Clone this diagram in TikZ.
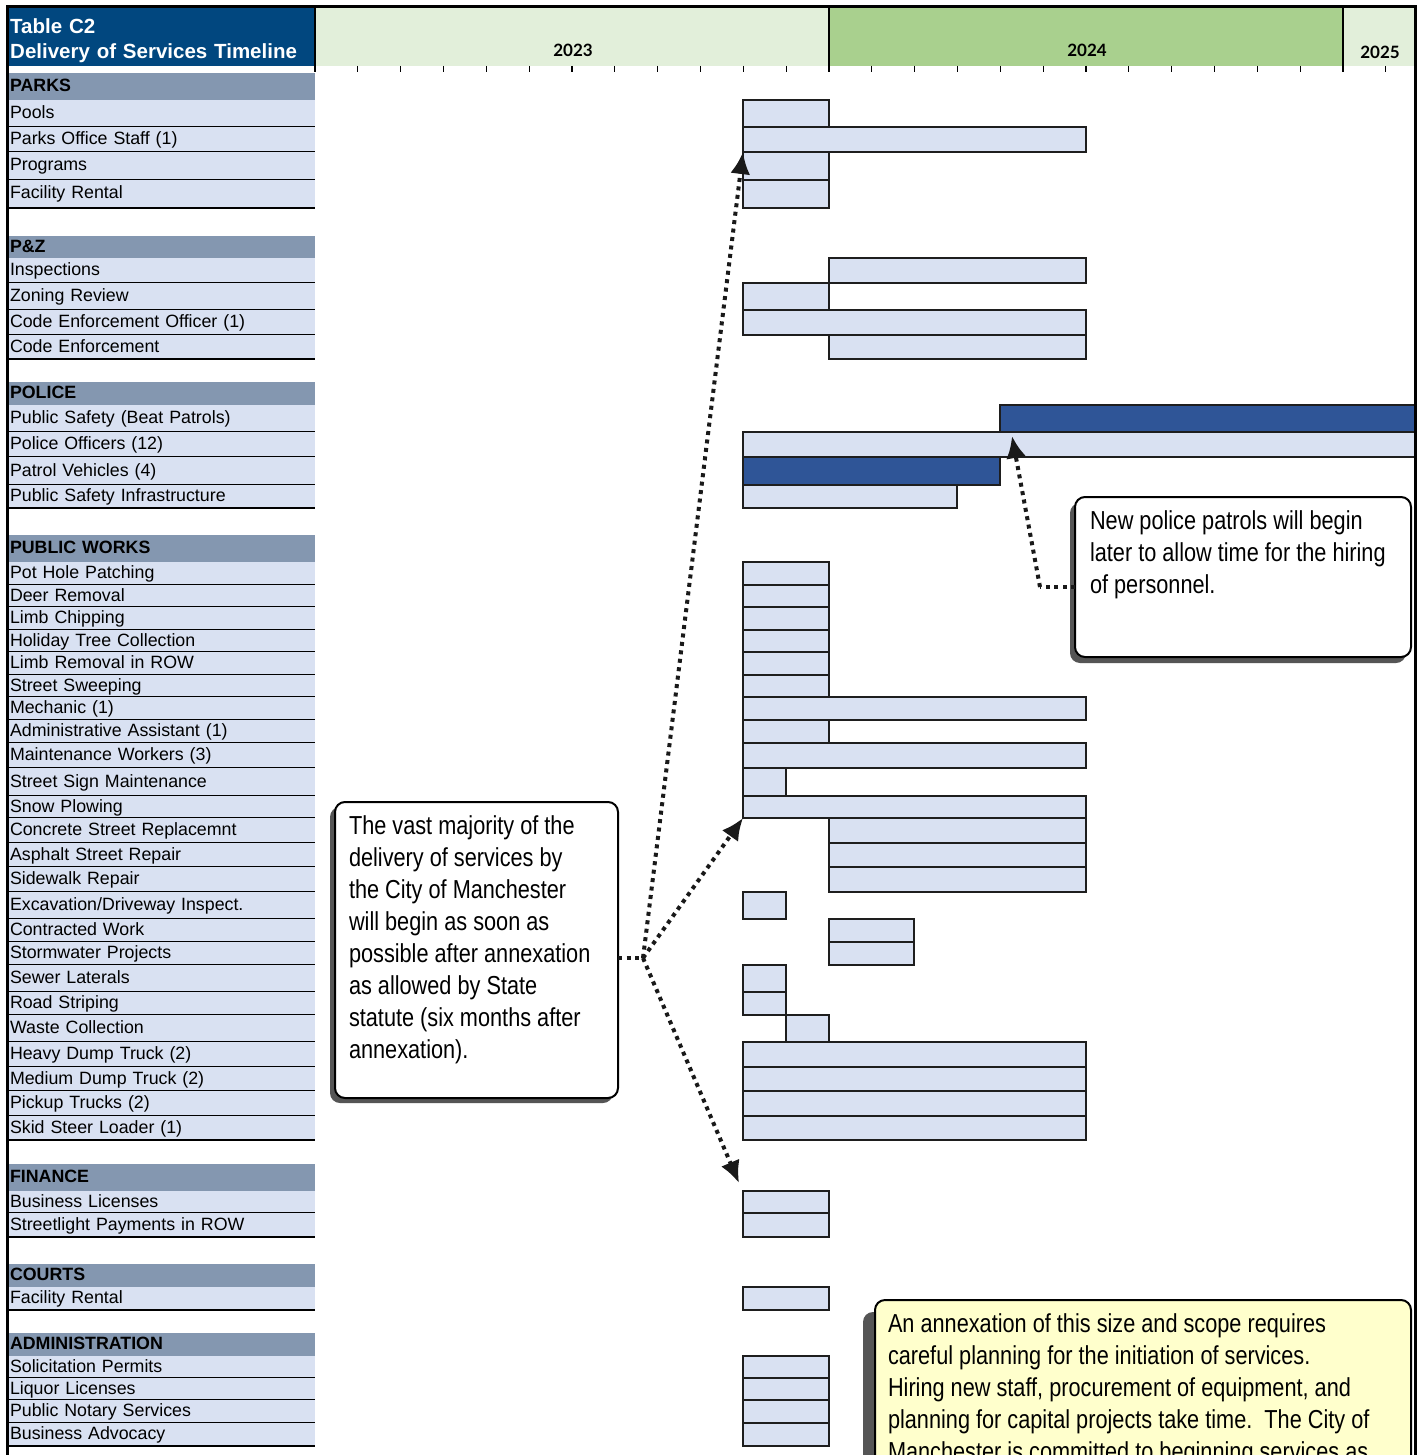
\documentclass[tikz,border=0pt]{standalone}
\usepackage{fontspec}
\setmainfont{Liberation Sans}
\newfontfamily\narrowfont{Liberation Sans}[FakeStretch=0.835]
\newfontfamily\yearfont{Lato}
\usetikzlibrary{arrows.meta,shadows}
\definecolor{rowfill}{HTML}{D9E1F2}
\definecolor{catfill}{HTML}{8497B0}
\definecolor{bardark}{HTML}{2F5597}
\definecolor{barline}{HTML}{1E1E1E}
\definecolor{titlebg}{HTML}{01477F}
\definecolor{glight}{HTML}{E2EFDA}
\definecolor{gdark}{HTML}{A9D08E}
\definecolor{notey}{HTML}{FFFFCC}
\definecolor{shadowc}{HTML}{555555}
\tikzset{
  lblrow/.style={rectangle, fill=rowfill, minimum width=308pt, text width=302pt,
    inner xsep=3pt, inner ysep=0pt, outer sep=0pt, align=left,
    font=\fontsize{17.8}{20}\selectfont, text height=14pt, text depth=4pt},
  catrow/.style={lblrow, fill=catfill, font=\fontsize{17.8}{20}\selectfont\bfseries},
  rowline/.style={line width=1.8pt, black},
  lightbar/.style={rectangle, draw=barline, line width=1.4pt, fill=rowfill, inner sep=0pt, outer sep=0pt},
  darkbar/.style={lightbar, fill=bardark},
  callout/.style={rectangle, rounded corners=10pt, draw=black, line width=2pt, fill=white,
    anchor=north west, inner sep=0pt, outer sep=0pt,
    font=\narrowfont\fontsize{26}{32}\selectfont},
  yearlbl/.style={font=\yearfont\bfseries\fontsize{17}{20}\selectfont, inner sep=0pt},
  tickline/.style={line width=1.3pt, black},
  dotline/.style={line width=4pt, dash pattern=on 4pt off 4.5pt, black!90},
  connector/.style={dotline, -{Latex[length=22pt,width=20pt]}},
}
\newcommand{\rowl}[5]{%
  \pgfmathsetmacro\gh{#3-#2}\pgfmathsetmacro\gy{(#2+#3)/2}%
  \node[#5, minimum height=\gh pt] (#1) at (161,\gy) {#4};}
\newcommand{\rowi}[4]{%
  \rowl{#1}{#2}{#3}{#4}{lblrow}%
  \draw[rowline] (#1.south west) -- (#1.south east);}
\newcommand{\gbar}[6]{%
  \pgfmathsetmacro\gw{#3-#2}\pgfmathsetmacro\gh{#5-#4}%
  \pgfmathsetmacro\gx{(#2+#3)/2}\pgfmathsetmacro\gy{(#4+#5)/2}%
  \node[#6, minimum width=\gw pt, minimum height=\gh pt] (#1) at (\gx,\gy) {};}
\newcommand{\oneline}[1]{\mbox{#1}\\}
\begin{document}
\begin{tikzpicture}[x=1pt,y=-1pt]
\useasboundingbox (0,0) rectangle (1419,1455);
\clip (0,0) rectangle (1419,1455);
\fill[white] (0,0) rectangle (1419,1455);
% ---------- header ----------
\fill[titlebg] (7,7) rectangle (315,66);
\node[anchor=west, text width=302pt, inner xsep=3pt, inner ysep=0pt, align=left, text=white,
  font=\fontsize{20.5}{25}\selectfont\bfseries] (title) at (7,41)
  {Table C2\\Delivery of Services Timeline};
\fill[glight] (315,7) rectangle (829,66);
\fill[gdark] (829,7) rectangle (1343,66);
\fill[glight] (1343,7) rectangle (1415,66);
\node[yearlbl] (y2023) at (573,50) {2023};
\node[yearlbl] (y2024) at (1087,50) {2024};
\node[yearlbl] (y2025) at (1380,52) {2025};
\foreach \k in {1,...,11,13,14,...,23,24,25} {
  \pgfmathsetmacro\tx{315+42.833*\k}
  \draw[tickline] (\tx,66) -- (\tx,72);
}
\draw[tickline] (829,7) -- (829,72);
\draw[tickline] (1343,7) -- (1343,72);
\draw[tickline] (315,7) -- (315,72);
% ---------- label column ----------
\rowl{cParks}{73}{100}{PARKS}{catrow}
\rowi{lPools}{100}{127}{Pools}
\rowi{lStaff}{127}{152}{Parks Office Staff (1)}
\rowi{lPrograms}{152}{180}{Programs}
\rowi{lFac}{180}{208}{Facility Rental}
\rowl{cPZ}{236}{258}{P\&Z}{catrow}
\rowi{lInsp}{258}{283}{Inspections}
\rowi{lZon}{283}{310}{Zoning Review}
\rowi{lCEO}{310}{335}{Code Enforcement Officer (1)}
\rowi{lCE}{335}{359}{Code Enforcement}
\rowl{cPolice}{382}{405}{POLICE}{catrow}
\rowi{lBeat}{405}{432}{Public Safety (Beat Patrols)}
\rowi{lOff}{432}{457}{Police Officers (12)}
\rowi{lVeh}{457}{485}{Patrol Vehicles (4)}
\rowi{lPSI}{485}{508}{Public Safety Infrastructure}
\rowl{cPW}{535}{562}{PUBLIC WORKS}{catrow}
\rowi{lPot}{562}{585}{Pot Hole Patching}
\rowi{lDeer}{585}{607}{Deer Removal}
\rowi{lChip}{607}{630}{Limb Chipping}
\rowi{lHol}{630}{652}{Holiday Tree Collection}
\rowi{lLimb}{652}{675}{Limb Removal in ROW}
\rowi{lSweep}{675}{697}{Street Sweeping}
\rowi{lMech}{697}{720}{Mechanic (1)}
\rowi{lAdm}{720}{743}{Administrative Assistant (1)}
\rowi{lMaint}{743}{768}{Maintenance Workers (3)}
\rowi{lSign}{768}{796}{Street Sign Maintenance}
\rowi{lSnow}{796}{818}{Snow Plowing}
\rowi{lConc}{818}{843}{Concrete Street Replacemnt}
\rowi{lAsph}{843}{867}{Asphalt Street Repair}
\rowi{lSide}{867}{892}{Sidewalk Repair}
\rowi{lExc}{892}{919}{Excavation/Driveway Inspect.}
\rowi{lCon}{919}{942}{Contracted Work}
\rowi{lStorm}{942}{965}{Stormwater Projects}
\rowi{lSew}{965}{992}{Sewer Laterals}
\rowi{lStripe}{992}{1015}{Road Striping}
\rowi{lWaste}{1015}{1042}{Waste Collection}
\rowi{lHeavy}{1042}{1067}{Heavy Dump Truck (2)}
\rowi{lMed}{1067}{1091}{Medium Dump Truck (2)}
\rowi{lPick}{1091}{1116}{Pickup Trucks (2)}
\rowi{lSkid}{1116}{1140}{Skid Steer Loader (1)}
\rowl{cFin}{1164}{1191}{FINANCE}{catrow}
\rowi{lBiz}{1191}{1213}{Business Licenses}
\rowi{lLight}{1213}{1237}{Streetlight Payments in ROW}
\rowl{cCourts}{1264}{1287}{COURTS}{catrow}
\rowi{lCFac}{1287}{1310}{Facility Rental}
\rowl{cAdmin}{1333}{1356}{ADMINISTRATION}{catrow}
\rowi{lSol}{1356}{1378}{Solicitation Permits}
\rowi{lLiq}{1378}{1400}{Liquor Licenses}
\rowi{lNot}{1400}{1423}{Public Notary Services}
\rowi{lAdv}{1423}{1446}{Business Advocacy}
% ---------- bars ----------
\gbar{bPools}{743}{829}{100}{127}{lightbar}
\gbar{bStaff}{743}{1086}{127}{152}{lightbar}
\gbar{bPrograms}{743}{829}{152}{180}{lightbar}
\gbar{bFac}{743}{829}{180}{208}{lightbar}
\gbar{bInsp}{829}{1086}{258}{283}{lightbar}
\gbar{bZon}{743}{829}{283}{310}{lightbar}
\gbar{bCEO}{743}{1086}{310}{335}{lightbar}
\gbar{bCE}{829}{1086}{335}{359}{lightbar}
\gbar{bOff}{743}{1415}{432}{457}{lightbar}
\gbar{bPSI}{743}{957}{485}{508}{lightbar}
\gbar{bBeat}{1000}{1415}{405}{432}{darkbar}
\gbar{bVeh}{743}{1000}{457}{485}{darkbar}
\gbar{bPot}{743}{829}{562}{585}{lightbar}
\gbar{bDeer}{743}{829}{585}{607}{lightbar}
\gbar{bChip}{743}{829}{607}{630}{lightbar}
\gbar{bHol}{743}{829}{630}{652}{lightbar}
\gbar{bLimb}{743}{829}{652}{675}{lightbar}
\gbar{bSweep}{743}{829}{675}{697}{lightbar}
\gbar{bMech}{743}{1086}{697}{720}{lightbar}
\gbar{bAdm}{743}{829}{720}{743}{lightbar}
\gbar{bMaint}{743}{1086}{743}{768}{lightbar}
\gbar{bSign}{743}{786}{768}{796}{lightbar}
\gbar{bSnow}{743}{1086}{796}{818}{lightbar}
\gbar{bConc}{829}{1086}{818}{843}{lightbar}
\gbar{bAsph}{829}{1086}{843}{867}{lightbar}
\gbar{bSide}{829}{1086}{867}{892}{lightbar}
\gbar{bExc}{743}{786}{892}{919}{lightbar}
\gbar{bCon}{829}{914}{919}{942}{lightbar}
\gbar{bStorm}{829}{914}{942}{965}{lightbar}
\gbar{bSew}{743}{786}{965}{992}{lightbar}
\gbar{bStripe}{743}{786}{992}{1015}{lightbar}
\gbar{bWaste}{786}{829}{1015}{1042}{lightbar}
\gbar{bHeavy}{743}{1086}{1042}{1067}{lightbar}
\gbar{bMed}{743}{1086}{1067}{1091}{lightbar}
\gbar{bPick}{743}{1086}{1091}{1116}{lightbar}
\gbar{bSkid}{743}{1086}{1116}{1140}{lightbar}
\gbar{bBiz}{743}{829}{1191}{1213}{lightbar}
\gbar{bLight}{743}{829}{1213}{1237}{lightbar}
\gbar{bCFac}{743}{829}{1287}{1310}{lightbar}
\gbar{bSol}{743}{829}{1356}{1378}{lightbar}
\gbar{bLiq}{743}{829}{1378}{1400}{lightbar}
\gbar{bNot}{743}{829}{1400}{1423}{lightbar}
\gbar{bAdv}{743}{829}{1423}{1446}{lightbar}
% ---------- callouts ----------
\node[callout, drop shadow={shadow xshift=-5pt, shadow yshift=-5pt, fill=shadowc, opacity=1}]
  (c1) at (335,802) {\hspace*{14pt}\parbox[c][296pt][t]{255pt}{\vspace*{14pt}%
  \oneline{The vast majority of the}\oneline{delivery of services by}\oneline{the City of Manchester}%
  \oneline{will begin as soon as}\oneline{possible after annexation}\oneline{as allowed by State}%
  \oneline{statute (six months after}\mbox{annexation).}}\hspace*{14pt}};
\node[callout, drop shadow={shadow xshift=-5pt, shadow yshift=-6pt, fill=shadowc, opacity=1}]
  (c2) at (1075,497) {\hspace*{15pt}\parbox[c][160pt][t]{306pt}{\vspace*{14pt}%
  \oneline{New police patrols will begin}\oneline{later to allow time for the hiring}%
  \mbox{of personnel.}}\hspace*{15pt}};
\node[callout, fill=notey, drop shadow={shadow xshift=-12pt, shadow yshift=-12pt, fill=shadowc, opacity=1}]
  (c3) at (875,1300) {\hspace*{13pt}\parbox[c][300pt][t]{510pt}{\vspace*{14pt}%
  \oneline{An annexation of this size and scope requires}\oneline{careful planning for the initiation of services.}%
  \oneline{Hiring new staff, procurement of equipment, and}\oneline{planning for capital projects take time.\ \ The City of}%
  \mbox{Manchester is committed to beginning services as}}\hspace*{13pt}};
% ---------- connectors ----------
\coordinate (j1) at (643,958);
\coordinate (t3) at (739,1183);
\draw[dotline] (c1.east |- j1) -- (j1);
\draw[connector] (j1) -- (bStaff.south west);
\draw[connector] (j1) -- (bSnow.south west);
\draw[connector] (j1) -- (t3);
\coordinate (k2) at (1040,587);
\coordinate (t2) at (1012,436);
\draw[dotline] (c2.west |- k2) -- (k2);
\draw[connector] (k2) -- (t2);
% ---------- frame ----------
\draw[line width=3pt, black] (7,1460) -- (7,7) -- (1415,7) -- (1415,1460);
\end{tikzpicture}
\end{document}
